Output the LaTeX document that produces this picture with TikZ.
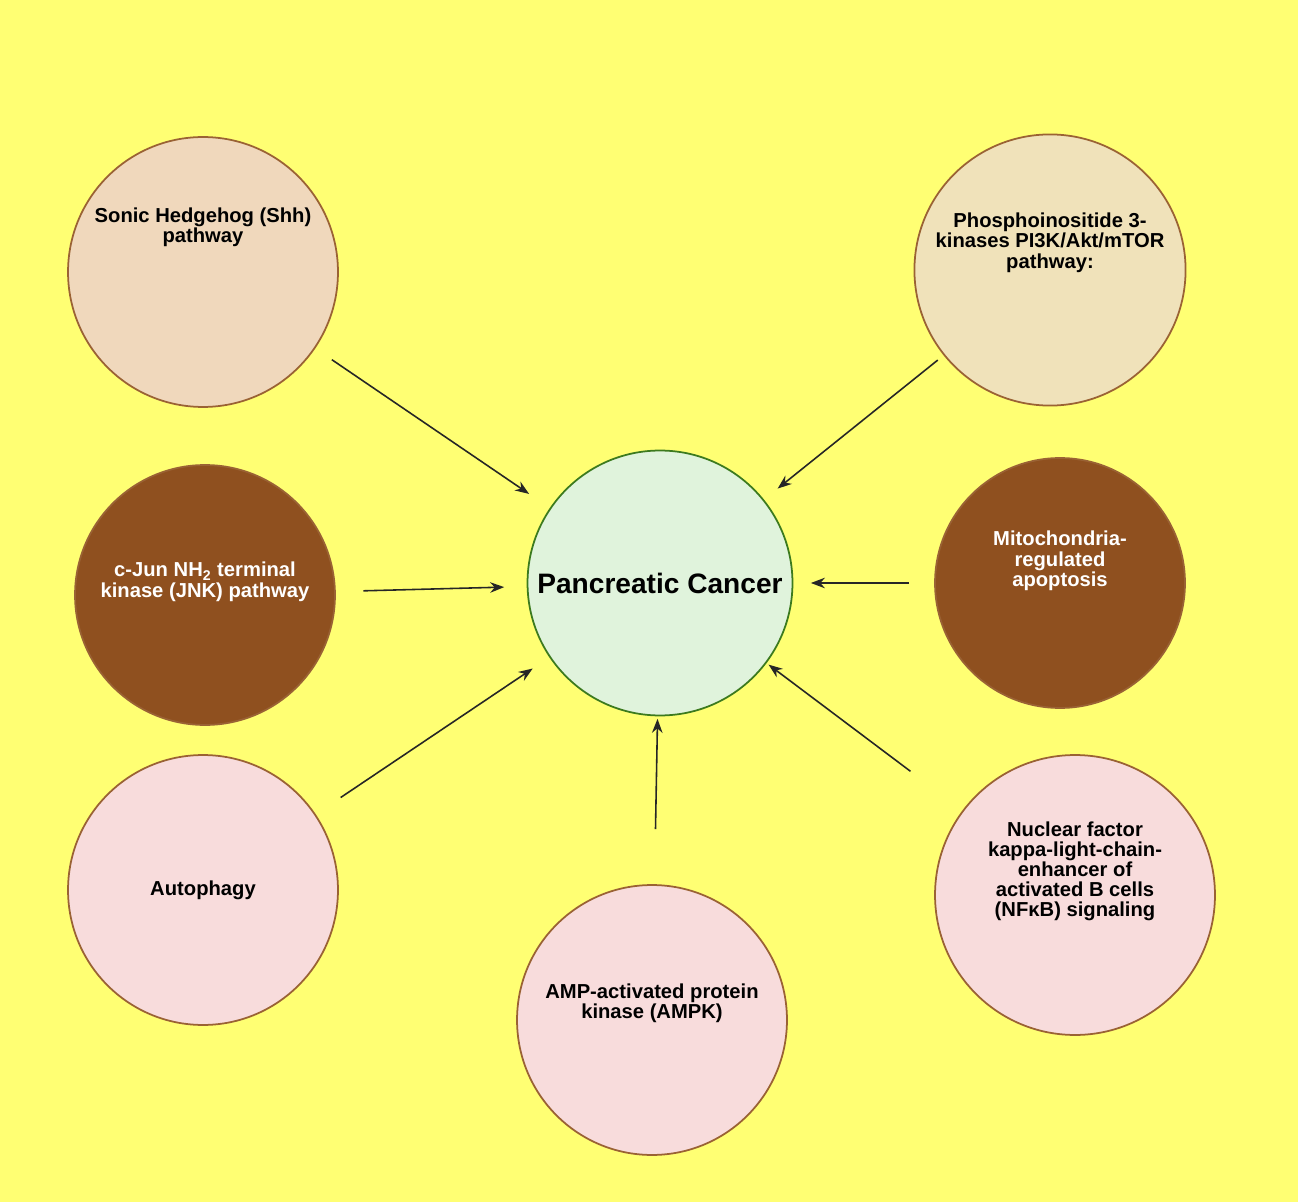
\documentclass[tikz,border=0pt]{standalone}
\usepackage{fontspec}
\setmainfont{Liberation Sans}
\usetikzlibrary{arrows.meta}
\definecolor{bgYellow}{HTML}{FFFF73}
\definecolor{cTan}{HTML}{F0D8BC}
\definecolor{cSand}{HTML}{F0E2BA}
\definecolor{cBrown}{HTML}{8F501F}
\definecolor{cPink}{HTML}{F8DCDC}
\definecolor{cMint}{HTML}{E0F3DC}
\definecolor{cEdge}{HTML}{9A6234}
\definecolor{cGreen}{HTML}{3C7A1E}
\tikzset{
  pCircle/.style={circle, draw=cEdge, line width=1pt, align=center, font=\bfseries\fontsize{11.5}{13.5}\selectfont},
  pArrow/.style={-{Stealth[length=8pt,width=6pt]}, line width=0.9pt, black!85}
}
\begin{document}
\begin{tikzpicture}[x=0.02cm, y=-0.02cm]
    \fill[bgYellow] (0,0) rectangle (1298,1202);
    \useasboundingbox (0,0) rectangle (1298,1202);
    \node (cancer) [pCircle, draw=cGreen, fill=cMint, minimum size=5.3cm, font=\bfseries\fontsize{16}{18}\selectfont] at (660,583) {Pancreatic Cancer};
    \node (shh) [pCircle, fill=cTan, minimum size=5.4cm] at (203,272) {Sonic Hedgehog (Shh)\\[-2pt]pathway\\[40pt]};
    \node (pik) [pCircle, fill=cSand, minimum size=5.4cm] at (1050,270) {Phosphoinositide 3-\\[-2pt]kinases PI3K/Akt/mTOR\\[-2pt]pathway:\\[20pt]};
    \node (jnk) [pCircle, fill=cBrown, text=white, minimum size=5.2cm] at (205,595) {c-Jun NH\textsubscript{2} terminal\\[-2pt]kinase (JNK) pathway\\[4pt]};
    \node (mito) [pCircle, fill=cBrown, text=white, minimum size=5cm] at (1060,583) {Mitochondria-\\[-2pt]regulated\\[-2pt]apoptosis\\[14pt]};
    \node (auto) [pCircle, fill=cPink, minimum size=5.4cm] at (203,890) {Autophagy};
    \node (ampk) [pCircle, fill=cPink, minimum size=5.4cm] at (652,1020) {AMP-activated protein\\[-2pt]kinase (AMPK)\\[8pt]};
    \node (nfkb) [pCircle, fill=cPink, minimum size=5.6cm] at (1075,895) {Nuclear factor\\[-2pt]kappa-light-chain-\\[-2pt]enhancer of\\[-2pt]activated B cells\\[-2pt](NFκB) signaling\\[16pt]};

    \draw [pArrow, shorten <=0.4cm, shorten >=0.5cm] (shh) -- (cancer);
    \draw [pArrow, shorten <=0.15cm, shorten >=0.35cm] (pik) -- (cancer);
    \draw [pArrow, shorten <=0.55cm, shorten >=0.45cm] (jnk) -- (cancer);
    \draw [pArrow, shorten <=0.5cm, shorten >=0.35cm] (mito) -- (cancer);
    \draw [pArrow, shorten <=0.6cm, shorten >=0.4cm] (auto) -- (cancer);
    \draw [pArrow, shorten <=1.1cm, shorten >=0.05cm] (ampk) -- (cancer);
    \draw [pArrow, shorten <=1.3cm, shorten >=0.05cm] (nfkb) -- (cancer);
\end{tikzpicture}
\end{document}
